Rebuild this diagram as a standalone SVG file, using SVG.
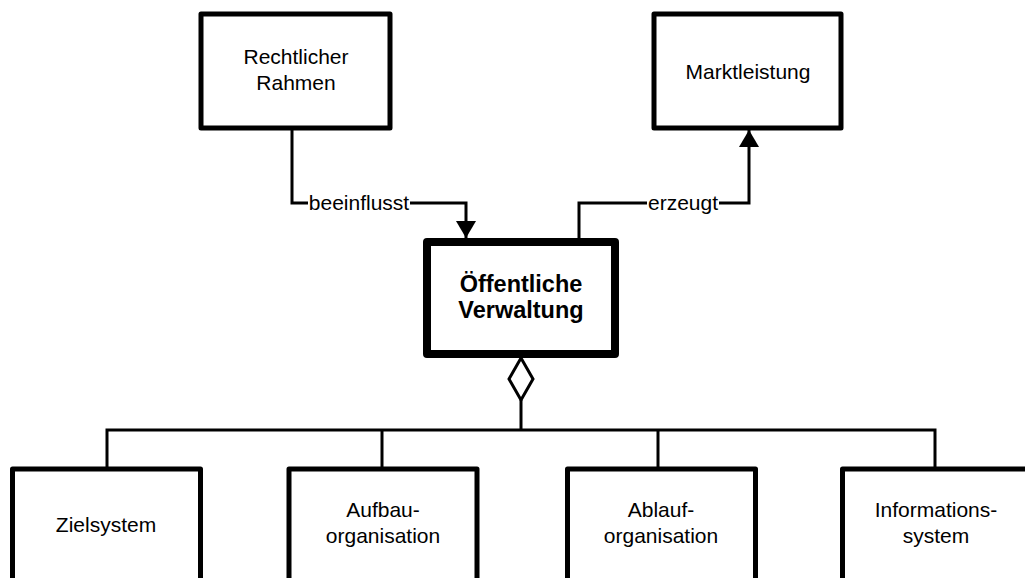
<svg xmlns="http://www.w3.org/2000/svg" width="1025" height="578" viewBox="0 0 1025 578">
  <style>
    .box { fill: #ffffff; stroke: #000000; stroke-width: 5; stroke-linejoin: round; }
    .main { fill: #ffffff; stroke: #000000; stroke-width: 8; stroke-linejoin: round; }
    .lbl { font-family: "Liberation Sans", Arial, sans-serif; font-size: 21px; fill: #000000; text-anchor: middle; }
    .bold { font-family: "Liberation Sans", Arial, sans-serif; font-size: 23.5px; font-weight: bold; fill: #000000; text-anchor: middle; }
    .wire { fill: none; stroke: #000000; stroke-width: 3; }
    .bg { fill: #ffffff; }
  </style>
  <defs>
    <marker id="arrow" markerWidth="17" markerHeight="20" refX="17" refY="10" orient="auto" markerUnits="userSpaceOnUse" viewBox="0 0 17 20">
      <path d="M0,0 L17,10 L0,20 Z" fill="#000000"/>
    </marker>
  </defs>
  <rect width="1025" height="578" fill="#ffffff"/>

  <!-- connectors -->
  <g id="connectors">
    <!-- Rechtlicher Rahmen -> Öffentliche Verwaltung -->
    <path class="wire" d="M292,130 V203 H466 V238" marker-end="url(#arrow)"/>
    <rect class="bg" x="308" y="193" width="102" height="22"/>
    <text class="lbl" x="359" y="210">beeinflusst</text>
    <!-- Öffentliche Verwaltung -> Marktleistung -->
    <path class="wire" d="M579,238 V203 H749 V130" marker-end="url(#arrow)"/>
    <rect class="bg" x="647" y="193" width="72" height="22"/>
    <text class="lbl" x="683" y="210">erzeugt</text>
    <!-- aggregation -->
    <path class="wire" d="M521,400 V430"/>
    <path class="wire" d="M107,467 V430 H935 V467"/>
    <path class="wire" d="M382,430 V467"/>
    <path class="wire" d="M658,430 V467"/>
    <path d="M521,358 L533,379 L521,400 L509,379 Z" fill="#ffffff" stroke="#000000" stroke-width="3" stroke-linejoin="miter"/>
  </g>

  <g id="rechtlicher-rahmen">
    <rect class="box" x="201" y="14" width="189" height="114"/>
    <text class="lbl" x="296" y="64">Rechtlicher</text>
    <text class="lbl" x="296" y="90">Rahmen</text>
  </g>

  <g id="marktleistung">
    <rect class="box" x="654" y="14" width="187" height="114"/>
    <text class="lbl" x="748" y="79">Marktleistung</text>
  </g>

  <g id="oeffentliche-verwaltung">
    <rect class="main" x="427" y="242" width="188" height="112"/>
    <text class="bold" x="521" y="292">Öffentliche</text>
    <text class="bold" x="521" y="318">Verwaltung</text>
  </g>

  <g id="zielsystem">
    <rect class="box" x="12.5" y="469" width="188" height="130"/>
    <text class="lbl" x="106" y="532">Zielsystem</text>
  </g>

  <g id="aufbauorganisation">
    <rect class="box" x="289" y="469" width="188" height="130"/>
    <text class="lbl" x="383" y="517">Aufbau-</text>
    <text class="lbl" x="383" y="543">organisation</text>
  </g>

  <g id="ablauforganisation">
    <rect class="box" x="567.5" y="469" width="188" height="130"/>
    <text class="lbl" x="661" y="517">Ablauf-</text>
    <text class="lbl" x="661" y="543">organisation</text>
  </g>

  <g id="informationssystem">
    <rect class="box" x="842.5" y="469" width="188" height="130"/>
    <text class="lbl" x="936" y="517">Informations-</text>
    <text class="lbl" x="936" y="543">system</text>
  </g>
</svg>
